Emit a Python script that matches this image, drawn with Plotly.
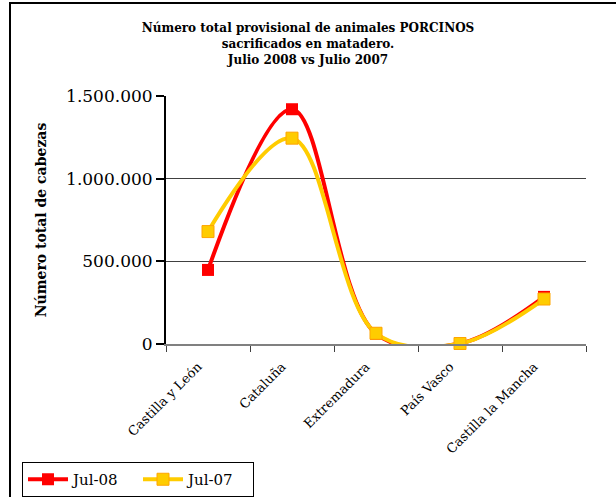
import plotly.graph_objects as go

# Data
regions = ["Castilla y León", "Cataluña", "Extremadura", "País Vasco", "Castilla la Mancha"]
jul_08 = [448000, 1420000, 62000, 3000, 285000]
jul_07 = [680000, 1245000, 65000, 3000, 272000]
y_ticks = [0, 500000, 1000000, 1500000]
y_tick_labels = ["0", "500.000", "1.000.000", "1.500.000"]

SERIF = "DejaVu Serif, Liberation Serif, serif"

fig = go.Figure()

fig.add_trace(go.Scatter(
    x=regions, y=jul_08, name="Jul-08",
    mode="lines+markers",
    line=dict(color="#FF0000", width=4, shape="spline", smoothing=1.0),
    marker=dict(symbol="square", size=12, color="#FF0000"),
    cliponaxis=False,
))
fig.add_trace(go.Scatter(
    x=regions, y=jul_07, name="Jul-07",
    mode="lines+markers",
    line=dict(color="#FFCC00", width=4, shape="spline", smoothing=1.0),
    marker=dict(symbol="square", size=12, color="#FFCC00",
                line=dict(color="#FFA500", width=1)),
    cliponaxis=False,
))

# outer chart border (only left/top visible in the crop)
fig.add_shape(type="rect", xref="paper", yref="paper",
              x0=(10 - 166) / 420, x1=(640 - 166) / 420,
              y0=(344 - 520) / 248, y1=(344 - 3) / 248,
              line=dict(color="black", width=2), layer="below")

fig.update_layout(
    width=616, height=497,
    margin=dict(l=166, r=30, t=96, b=153, autoexpand=False),
    paper_bgcolor="white", plot_bgcolor="white",
    font=dict(family=SERIF, size=14, color="black"),
    title=dict(
        text="<b>Número total provisional de animales PORCINOS<br>"
             "sacrificados en matadero.<br>Julio 2008 vs Julio 2007</b>",
        x=0.5, xanchor="center", y=0.935, yanchor="top",
        font=dict(family=SERIF, size=12),
    ),
    showlegend=True,
    legend=dict(
        orientation="h", x=(22 - 166) / 420, y=(344 - 462) / 248,
        xanchor="left", yanchor="top",
        bordercolor="black", borderwidth=1,
        font=dict(family=SERIF, size=15),
        entrywidth=60, entrywidthmode="pixels",
        itemwidth=40,
    ),
)

fig.update_xaxes(
    range=[-0.5, 4.5],
    tickangle=-45,
    tickson="boundaries",
    ticks="outside", ticklen=6, tickcolor="#404040",
    showline=True, linecolor="#808080", linewidth=2,
    showgrid=False, automargin=False,
    ticklabelstandoff=8, ticklabelshift=-10,
    tickfont=dict(family=SERIF, size=13),
)
fig.update_yaxes(
    range=[0, 1500000],
    tickvals=y_ticks, ticktext=y_tick_labels,
    ticks="outside", ticklen=8, tickwidth=2, tickcolor="black",
    showline=True, linecolor="black", linewidth=2,
    showgrid=True, gridcolor="#404040", gridwidth=1,
    zeroline=False, automargin=False,
    tickfont=dict(family=SERIF, size=17),
    title=dict(text="<b>Número total de cabezas</b>", standoff=16,
               font=dict(family=SERIF, size=14)),
)

# page body has a default 8px margin; drop it so the figure sits at (0, 0)
fig.write_html("out.html", config={"displayModeBar": False},
               post_script="document.body.style.margin = '0';")
